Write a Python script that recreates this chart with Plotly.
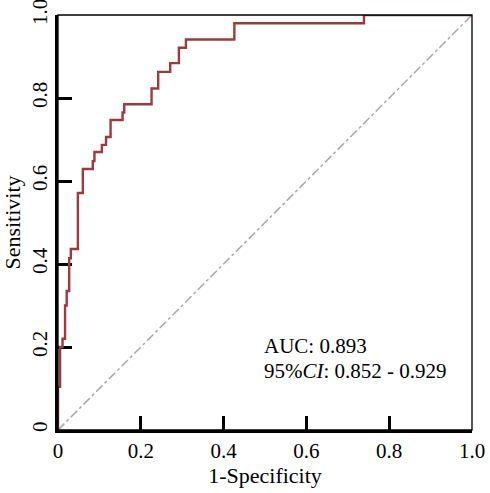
import plotly.graph_objects as go

# ROC curve corner points (1-Specificity, Sensitivity)
fpr = [0.0, 0.0, 0.005, 0.011, 0.017, 0.021, 0.027, 0.031, 0.048, 0.060, 0.084, 0.088,
       0.106, 0.116, 0.127, 0.156, 0.160, 0.226, 0.242, 0.271, 0.292, 0.309, 0.426, 0.739, 1.0]
tpr = [0.0, 0.104, 0.200, 0.220, 0.300, 0.335, 0.414, 0.436, 0.571, 0.629, 0.648, 0.670,
       0.687, 0.706, 0.747, 0.765, 0.785, 0.823, 0.863, 0.884, 0.921, 0.941, 0.980, 1.0, 1.0]

diag = [0.0, 1.0]
tick_vals = [0, 0.2, 0.4, 0.6, 0.8, 1.0]
tick_text = ["0", "0.2", "0.4", "0.6", "0.8", "1.0"]
auc_text = "AUC: 0.893"
ci_text = "95%<i>CI</i>: 0.852 - 0.929"

FONT = "Liberation Serif"
fig = go.Figure()
fig.add_trace(go.Scatter(x=diag, y=diag, mode="lines",
                         line=dict(color="#a8a8a8", width=1.5, dash="dashdot"),
                         hoverinfo="skip", showlegend=False))
fig.add_trace(go.Scatter(x=fpr, y=tpr, mode="lines", line_shape="hv",
                         line=dict(color="#9e3a3c", width=2.4), showlegend=False))

fig.add_annotation(x=0.492, y=0.202, xref="x", yref="y", text=auc_text, showarrow=False,
                   xanchor="left", yanchor="middle", font=dict(family=FONT, size=21, color="black"))
fig.add_annotation(x=0.492, y=0.142, xref="x", yref="y", text=ci_text, showarrow=False,
                   xanchor="left", yanchor="middle", font=dict(family=FONT, size=21, color="black"))

fig.add_shape(type="rect", xref="paper", yref="paper", x0=0, y0=0, x1=1, y1=1,
              line=dict(color="black", width=1.3), layer="above")

axis_common = dict(range=[0, 1], tickvals=tick_vals, ticktext=tick_text, ticks="inside",
                   ticklen=14, tickwidth=2.5, tickcolor="black", showline=True,
                   linecolor="black", linewidth=2.5, showgrid=False, zeroline=False,
                   automargin=False, ticklabeloverflow="allow",
                   tickfont=dict(family=FONT, size=21, color="black"), layer="below traces")

fig.update_layout(
    width=490, height=493,
    margin=dict(l=58, r=18, t=15, b=63),
    plot_bgcolor="white", paper_bgcolor="white",
    xaxis=dict(**axis_common, title=dict(text="1-Specificity", standoff=4,
                                         font=dict(family=FONT, size=22, color="black"))),
    yaxis=dict(**axis_common, tickangle=-90,
               title=dict(text="Sensitivity", standoff=4,
                          font=dict(family=FONT, size=22, color="black"))),
)
fig.write_html("out.html", config={"displayModeBar": False},
               post_script="document.body.style.margin='0';")
